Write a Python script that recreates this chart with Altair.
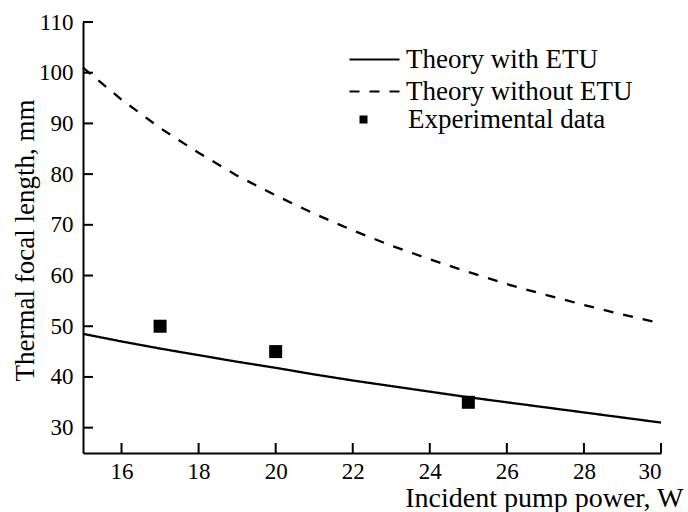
import altair as alt
import pandas as pd

# ---- data ----
power = [15, 16, 17, 18, 19, 20, 21, 22, 23, 24, 25, 26, 27, 28, 29, 30]
with_etu = [48.5, 47.0, 45.6, 44.3, 43.0, 41.8, 40.5, 39.3, 38.2, 37.1, 36.0, 35.0, 34.0, 33.0, 32.0, 31.0]
without_etu = [101.0, 94.7, 89.1, 84.2, 79.7, 75.8, 72.2, 68.9, 65.9, 63.2, 60.7, 58.3, 56.2, 54.2, 52.3, 50.6]
exp_power = [17, 20, 25]
exp_focal = [50, 45, 35]
x_tick_values = [16, 18, 20, 22, 24, 26, 28, 30]
y_tick_values = [30, 40, 50, 60, 70, 80, 90, 100, 110]
curve_names = ["Theory with ETU", "Theory without ETU"]
exp_name = "Experimental data"

W, H = 578, 431
FONT = "Liberation Serif"

lines_df = pd.DataFrame({
    "power": power * 2,
    "focal": with_etu + without_etu,
    "curve": [curve_names[0]] * len(power) + [curve_names[1]] * len(power),
})
exp_df = pd.DataFrame({"power": exp_power, "focal": exp_focal, "kind": [exp_name] * len(exp_power)})
xt_df = pd.DataFrame({"v": x_tick_values})
yt_df = pd.DataFrame({"v": y_tick_values})

xscale = alt.Scale(domain=[15, 30], nice=False, zero=False)
yscale = alt.Scale(domain=[25, 110], nice=False, zero=False)

x_axis = alt.Axis(values=x_tick_values, ticks=False, labelPadding=7, labelFontSize=23,
                  title="Incident pump power, W", titleAnchor="end", titleAlign="right",
                  titleX=600, titleY=53, titleBaseline="alphabetic", titleFontSize=28)
y_axis = alt.Axis(values=y_tick_values, ticks=False, labelPadding=10, labelFontSize=23,
                  title="Thermal focal length, mm", titleAngle=270, titleX=-50, titleY=218,
                  titleAlign="center", titleBaseline="alphabetic", titleFontSize=27)

lines = alt.Chart(lines_df).mark_line(color="black", strokeWidth=2.3).encode(
    x=alt.X("power:Q", scale=xscale, axis=x_axis),
    y=alt.Y("focal:Q", scale=yscale, axis=y_axis),
    strokeDash=alt.StrokeDash(
        "curve:N",
        scale=alt.Scale(domain=curve_names, range=[[1, 0], [10, 10]]),
        legend=alt.Legend(title=None, orient="none", legendX=278, legendY=24,
                          symbolType="M-3,0H3", symbolSize=278, symbolStrokeWidth=2,
                          symbolStrokeColor="black", labelOffset=18, labelFont=FONT,
                          labelFontSize=27, labelColor="black", labelLimit=0,
                          rowPadding=4, padding=0),
    ),
)

points = alt.Chart(exp_df).mark_point(shape="square", filled=True, color="black", size=169, opacity=1).encode(
    x=alt.X("power:Q", scale=xscale),
    y=alt.Y("focal:Q", scale=yscale),
    shape=alt.Shape(
        "kind:N",
        scale=alt.Scale(domain=[exp_name], range=["square"]),
        legend=alt.Legend(title=None, orient="none", legendX=267, legendY=84,
                          symbolSize=64, symbolFillColor="black", symbolStrokeWidth=0,
                          labelOffset=31, labelFont=FONT, labelFontSize=27,
                          labelColor="black", labelLimit=0, padding=0),
    ),
)

xticks = alt.Chart(xt_df).mark_rule(color="black", strokeWidth=2).encode(
    x=alt.X("v:Q", scale=xscale), y=alt.value(H), y2=alt.value(H - 10)
)
yticks = alt.Chart(yt_df).mark_rule(color="black", strokeWidth=2).encode(
    y=alt.Y("v:Q", scale=yscale), x=alt.value(0), x2=alt.value(10)
)

chart = alt.layer(lines, points, xticks, yticks).resolve_legend(
    strokeDash="independent", shape="independent"
).properties(
    width=W, height=H,
    autosize=alt.AutoSizeParams(type="none"),
    padding={"left": 83, "top": 22, "right": 27, "bottom": 59},
    background="white",
).configure_view(stroke=None).configure_axis(
    grid=False, domainColor="black", domainWidth=2,
    labelFont=FONT, labelColor="black", titleFont=FONT, titleColor="black",
    titleFontWeight="normal",
)

chart.save("out.html", embed_options={"renderer": "svg", "actions": False})
